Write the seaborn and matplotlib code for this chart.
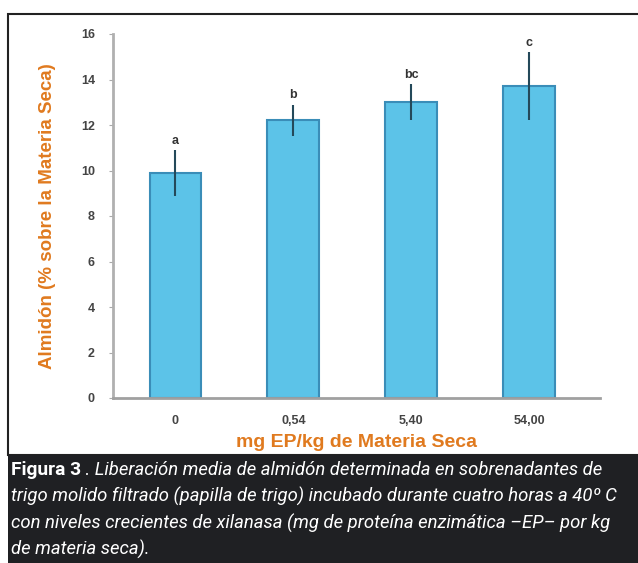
import matplotlib
matplotlib.use("Agg")
import matplotlib.pyplot as plt
import seaborn as sns
from matplotlib.patches import Rectangle

# datos
dosis = ["0", "0,54", "5,40", "54,00"]
almidon = [9.9, 12.2, 13.0, 13.7]
error = [1.0, 0.7, 0.8, 1.5]
letras = ["a", "b", "bc", "c"]
yticks = [0, 2, 4, 6, 8, 10, 12, 14, 16]

naranja = "#e07a1f"
azul = "#5cc3e8"
azul_borde = "#3a8db8"

sns.set_style("white")
plt.rcParams["font.family"] = ["Liberation Sans", "DejaVu Sans"]

fig = plt.figure(figsize=(6.38, 5.63), dpi=100)
fig.patch.set_facecolor("white")

# marco del grafico y caja del pie
fig.patches.append(Rectangle((8 / 638, 108 / 563), 1.0, 441 / 563, transform=fig.transFigure,
                             facecolor="white", edgecolor="#222222", linewidth=1.5, zorder=-1))
fig.patches.append(Rectangle((8 / 638, 0), 1.0, 108 / 563, transform=fig.transFigure,
                             facecolor="#1f2023", edgecolor="none", zorder=-1))

ax = fig.add_axes([113 / 638, 165 / 563, 487 / 638, 364 / 563])
ax.set_zorder(1)
ax.patch.set_alpha(0)
sns.barplot(x=dosis, y=almidon, ax=ax, width=0.44, color=azul,
            edgecolor=azul_borde, linewidth=1.5, saturation=1)
ax.errorbar(range(len(dosis)), almidon, yerr=error, fmt="none",
            ecolor="#24495a", elinewidth=1.5, capsize=0)
for i, (v, e, l) in enumerate(zip(almidon, error, letras)):
    ax.text(i, v + e + 0.15, l, ha="center", va="bottom", fontsize=9,
            fontweight="bold", color="#333333")

ax.set_ylim(0, 16)
ax.set_xlim(-0.53, 3.6)
ax.set_yticks(yticks)
ax.set_yticklabels([str(t) for t in yticks], fontsize=9, fontweight="bold", color="#444444")
ax.tick_params(axis="x", labelsize=9, labelcolor="#444444", pad=12, length=0)
ax.tick_params(axis="y", pad=10, length=3, color="#aaaaaa", left=True)
for lab in ax.get_xticklabels():
    lab.set_fontweight("bold")
sns.despine(ax=ax)
ax.spines["left"].set_color("#b0b0b0")
ax.spines["left"].set_linewidth(2)
ax.spines["bottom"].set_color("#a0a0a0")
ax.spines["bottom"].set_linewidth(2)

ax.set_ylabel("Almidón (% sobre la Materia Seca)", color=naranja, fontsize=13.5,
              fontweight="bold", labelpad=18)
ax.set_xlabel("mg EP/kg de Materia Seca", color=naranja, fontsize=14,
              fontweight="bold", labelpad=5)

# pie de figura
lineas = [
    "trigo molido filtrado (papilla de trigo) incubado durante cuatro horas a 40º C",
    "con niveles crecientes de xilanasa (mg de proteína enzimática –EP– por kg",
    "de materia seca).",
]
fuente = ["Roboto", "DejaVu Sans"]
tam = 13.3
y0 = 1 - 470 / 563
paso = 26.5 / 563
t = fig.text(11 / 638, y0, "Figura 3", color="white", fontsize=tam + 0.5, fontweight="bold",
             family=fuente, va="center")
fig.canvas.draw()
bb = t.get_window_extent().transformed(fig.transFigure.inverted())
fig.text(bb.x1, y0, " . Liberación media de almidón determinada en sobrenadantes de",
         color="white", fontsize=tam, style="italic", family=fuente, va="center")
for k, linea in enumerate(lineas):
    fig.text(11 / 638, y0 - (k + 1) * paso, linea, color="white", fontsize=tam,
             style="italic", family=fuente, va="center")

plt.savefig("out.png", dpi=100)
